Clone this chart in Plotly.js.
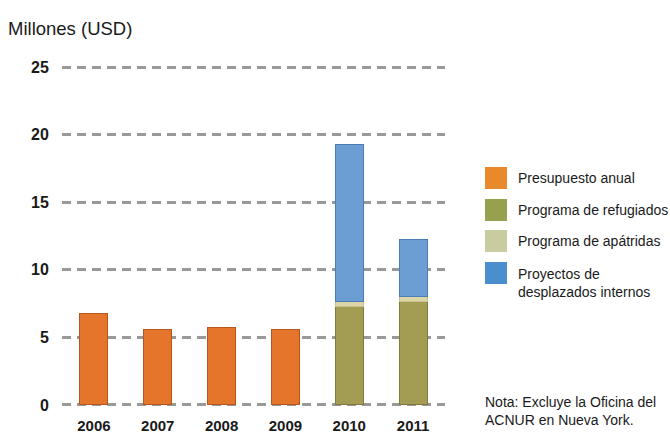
<!DOCTYPE html>
<html>
<head>
<meta charset="utf-8">
<script src="https://cdn.plot.ly/plotly-3.0.1.min.js"></script>
<style>html,body{margin:0;padding:0;background:#fff}#chart{width:670px;height:435px}</style>
</head>
<body>
<div id="chart"></div>
<script>
const years = ['2006', '2007', '2008', '2009', '2010', '2011'];
const presupuestoAnual = [6.8, 5.6, 5.75, 5.6, null, null];
const programaRefugiados = [null, null, null, null, 7.27, 7.64];
const programaApatridas = [null, null, null, null, 0.42, 0.37];
const proyectosDesplazados = [null, null, null, null, 11.6, 4.2];
const seriesNames = ['Presupuesto anual', 'Programa de refugiados', 'Programa de apátridas', 'Proyectos de<br>desplazados internos'];
const yTicks = [0, 5, 10, 15, 20, 25];
const noteText = 'Nota: Excluye la Oficina del<br>ACNUR en Nueva York.';

const colors = ['#E4752A', '#A29D52', '#DCD5A8', '#6C9ED4'];
const legendColors = ['#E8892A', '#97A04E', '#C8CCA0', '#4A8ED0'];
const edge = ['#B4561E', '#7E7A3C', '#C9C190', '#4A7CB8'];

const sans = '"Liberation Sans", Arial, Helvetica, sans-serif';

// plot area in pixels: value 0 at y=405, value 25 at y=67
const L = 62, R = 445, T = 63, B = 409;
const px = x => (x - L) / (R - L);
const py = y => (B - y) / (B - T);

const values = [presupuestoAnual, programaRefugiados, programaApatridas, proyectosDesplazados];
const data = values.map((v, i) => ({
  type: 'bar', x: years, y: v, name: seriesNames[i],
  marker: {color: colors[i], line: {color: edge[i], width: 1}},
  width: 0.44, showlegend: false, hoverinfo: 'x+y'
}));

const shapes = [];
const annotations = [];
const swatchCenters = [178, 210, 241, 273];
const textCenters = [178, 210, 241, 283];
swatchCenters.forEach((c, i) => {
  shapes.push({type: 'rect', xref: 'paper', yref: 'paper',
    x0: px(485), x1: px(507), y0: py(c + 11), y1: py(c - 11),
    fillcolor: legendColors[i], line: {width: 0}});
  annotations.push({xref: 'paper', yref: 'paper', x: px(516), y: py(textCenters[i]),
    xanchor: 'left', yanchor: 'middle', align: 'left', showarrow: false,
    text: seriesNames[i], font: {family: sans, size: 14, color: '#1a1a1a'}});
});
annotations.push({xref: 'paper', yref: 'paper', x: px(483), y: py(411),
  xanchor: 'left', yanchor: 'middle', align: 'left', showarrow: false,
  text: noteText, font: {family: sans, size: 14, color: '#1a1a1a'}});
annotations.push({xref: 'paper', yref: 'paper', x: px(6), y: py(28),
  xanchor: 'left', yanchor: 'middle', showarrow: false,
  text: 'Millones (USD)', font: {family: sans, size: 18.5, color: '#1a1a1a'}});

const layout = {
  width: 670, height: 435,
  margin: {l: L, r: 670 - R, t: T, b: 435 - B},
  paper_bgcolor: '#fff', plot_bgcolor: '#fff',
  barmode: 'stack',
  xaxis: {
    type: 'category', range: [-0.5, 5.5], showgrid: false, zeroline: false, showline: false,
    ticks: 'outside', ticklen: 3, tickcolor: 'rgba(0,0,0,0)',
    tickfont: {family: sans, size: 15, color: '#1a1a1a', weight: 'bold'}
  },
  yaxis: {
    range: [-0.3, 25.3], tickvals: yTicks, ticktext: yTicks.map(String),
    showgrid: true, gridcolor: '#999999', gridwidth: 3, griddash: '9px,6px',
    zeroline: false, showline: false, ticks: 'outside', ticklen: 9, tickcolor: 'rgba(0,0,0,0)',
    tickfont: {family: sans, size: 16, color: '#1a1a1a', weight: 'bold'}
  },
  shapes: shapes,
  annotations: annotations
};

Plotly.newPlot('chart', data, layout, {displayModeBar: false, staticPlot: true});
</script>
</body>
</html>
